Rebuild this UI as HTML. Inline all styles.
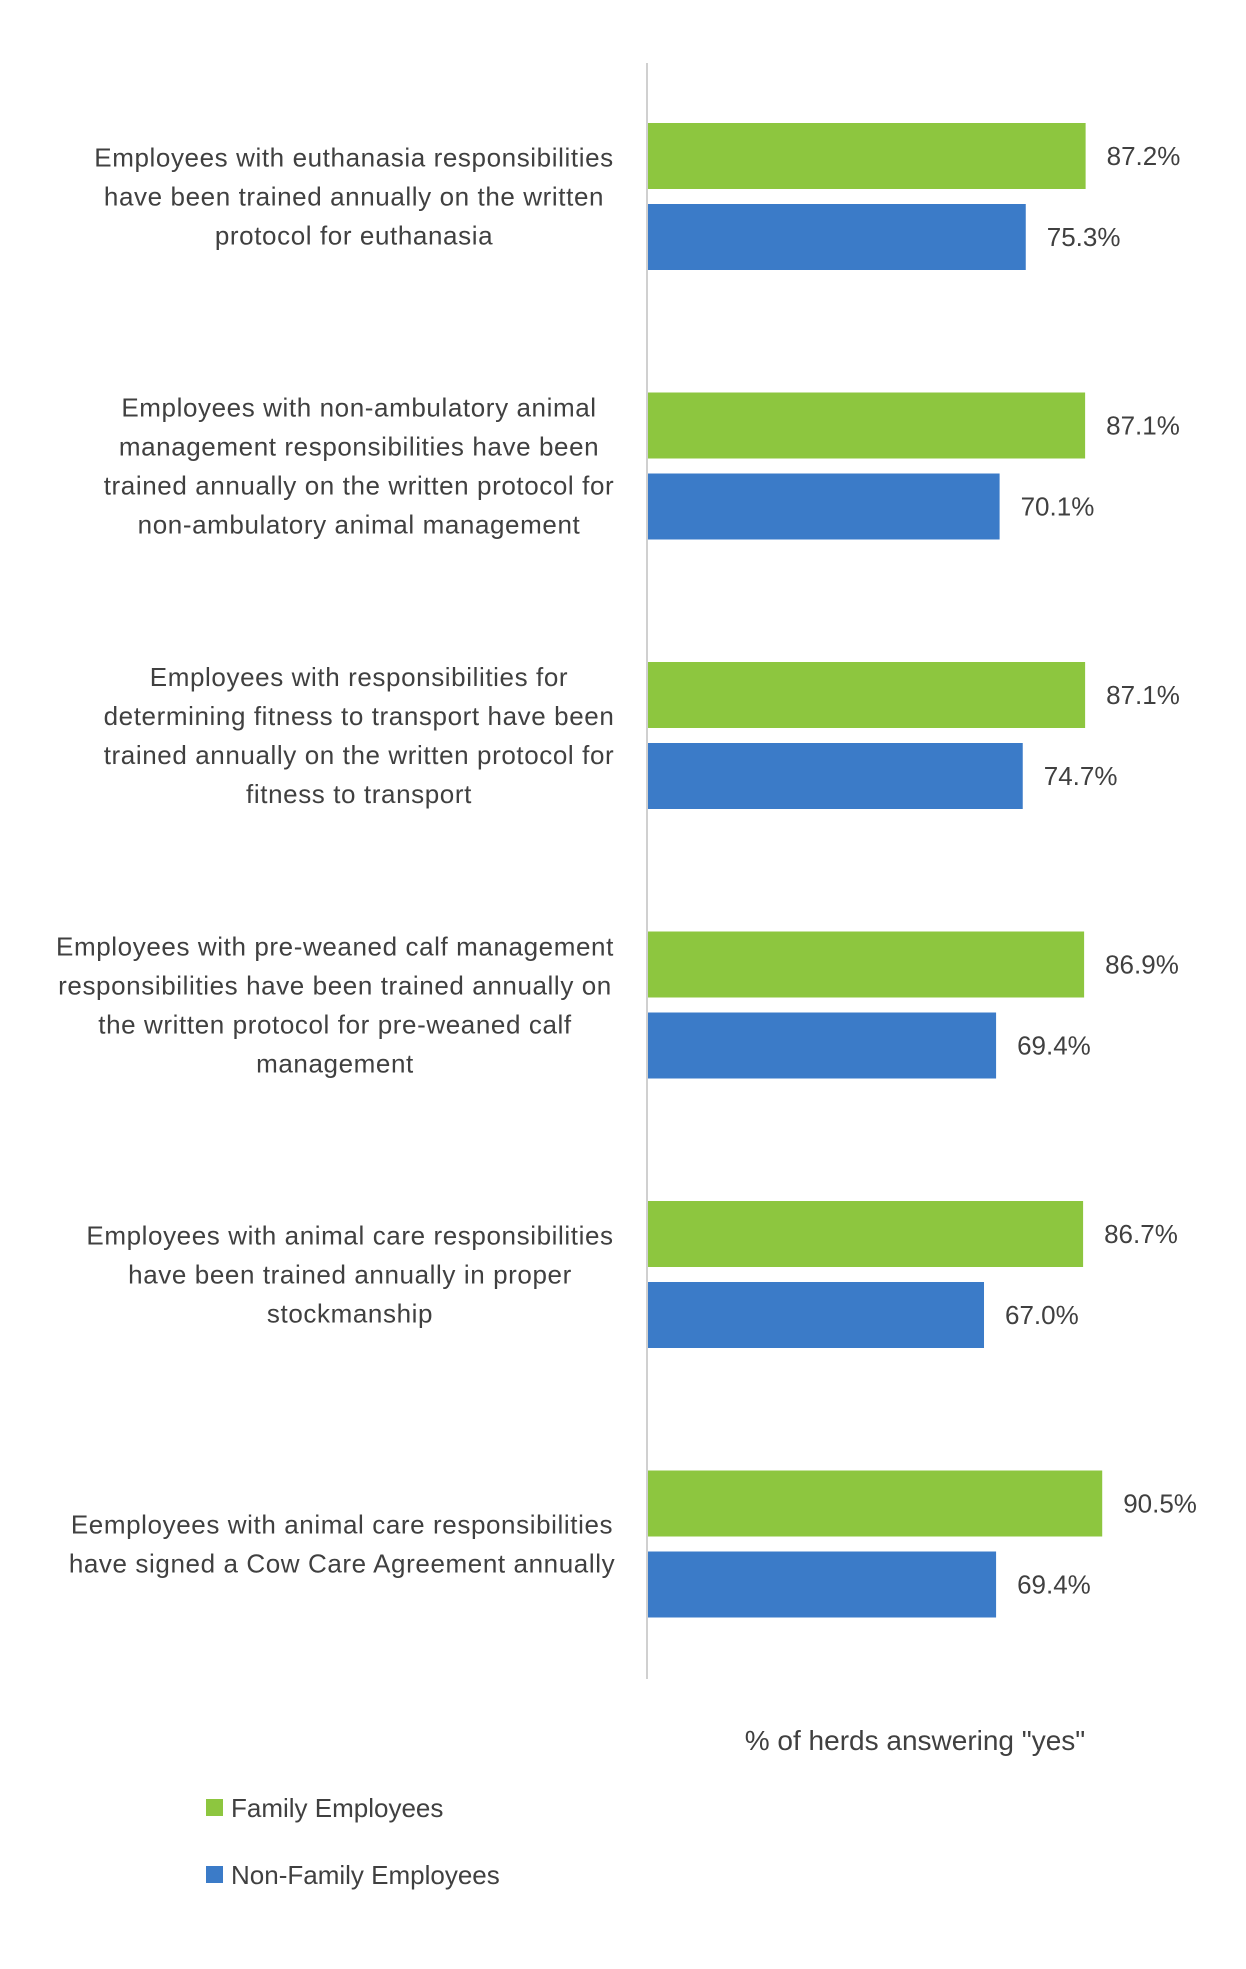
<!DOCTYPE html>
<html><head><meta charset="utf-8"><style>
html,body{margin:0;padding:0;background:#fff;}
svg{display:block;font-family:"Liberation Sans",sans-serif;}
</style></head><body>
<svg id="chart" width="1246" height="1969" viewBox="0 0 1246 1969" xmlns="http://www.w3.org/2000/svg">
<line x1="647" y1="63" x2="647" y2="1679" stroke="#d0d0d0" stroke-width="2"/>
<g id="bars"></g>
<text x="915" y="1750" text-anchor="middle" font-size="28" fill="#404040">% of herds answering "yes"</text>
<g>
<rect x="206" y="1799" width="17" height="17" fill="#8dc63f"/>
<text x="231" y="1817" font-size="26" fill="#404040">Family Employees</text>
<rect x="206" y="1866" width="17" height="17" fill="#3b7bc8"/>
<text x="231" y="1884" font-size="26" fill="#404040">Non-Family Employees</text>
</g>
</svg>
<script>
const categories = [
 ["Employees with euthanasia responsibilities","have been trained annually on the written","protocol for euthanasia"],
 ["Employees with non-ambulatory animal","management responsibilities have been","trained annually on the written protocol for","non-ambulatory animal management"],
 ["Employees with responsibilities for","determining fitness to transport have been","trained annually on the written protocol for","fitness to transport"],
 ["Employees with pre-weaned calf management","responsibilities have been trained annually on","the written protocol for pre-weaned calf","management"],
 ["Employees with animal care responsibilities","have been trained annually in proper","stockmanship"],
 ["Eemployees with animal care responsibilities","have signed a Cow Care Agreement annually"]
];
const familyValues = [87.2, 87.1, 87.1, 86.9, 86.7, 90.5];
const nonFamilyValues = [75.3, 70.1, 74.7, 69.4, 67.0, 69.4];
const labelCentersX = [354, 359, 359, 335, 350, 342];

const NS = "http://www.w3.org/2000/svg";
const g = document.getElementById('bars');
const x0 = 647, pxPerUnit = 5.03;
function xScale(v){ return x0 + v * pxPerUnit; }
function groupTop(i){ return 123 + i * 269.5; }
const barH = 66, gap = 15;
function mk(tag, attrs){ const e = document.createElementNS(NS, tag); for (const k in attrs) e.setAttribute(k, attrs[k]); return e; }

categories.forEach((lines, i) => {
  const top = groupTop(i);
  const series = [[familyValues[i], '#8dc63f', 'family'], [nonFamilyValues[i], '#3b7bc8', 'non-family']];
  series.forEach((s, j) => {
    const y = top + j * (barH + gap);
    const r = mk('rect', {x: x0 + 1, y: y, width: xScale(s[0]) - x0 - 1, height: barH, fill: s[1]});
    
    
    g.appendChild(r);
    const t = mk('text', {x: xScale(s[0]) + 21, y: y + barH / 2 + 9, 'font-size': 26, fill: '#404040'});
    t.textContent = s[0].toFixed(1) + '%';
    
    
    g.appendChild(t);
  });
  const center = top + barH + gap / 2;
  const lh = 39;
  const startY = center - (lines.length - 1) * lh / 2;
  lines.forEach((ln, k) => {
    const t = mk('text', {x: labelCentersX[i], y: startY + k * lh + 9, 'text-anchor': 'middle', 'font-size': 26, 'letter-spacing': '0.6', fill: '#404040'});
    t.textContent = ln;
    
    
    g.appendChild(t);
  });
});
</script>
</body></html>
